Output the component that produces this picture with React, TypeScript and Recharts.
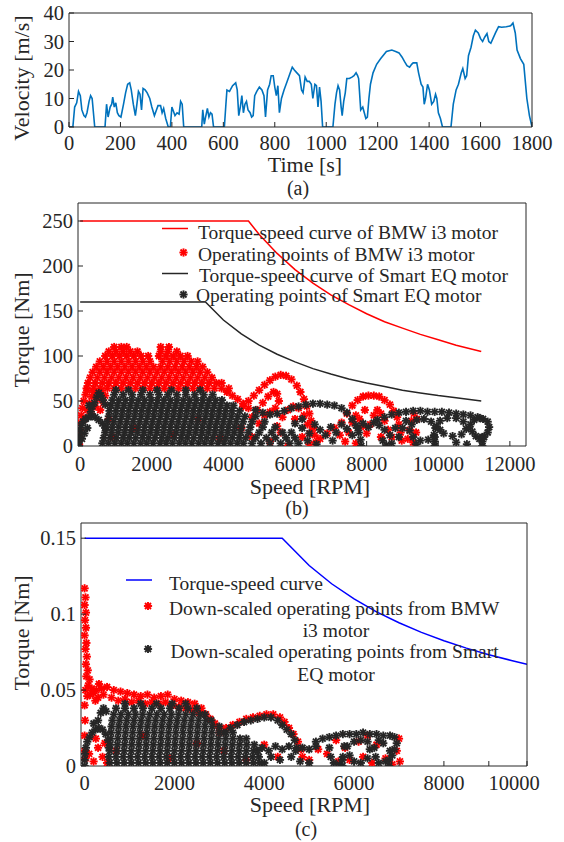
import React from "react";
import { ComposedChart, Line, Scatter, XAxis, YAxis, Legend } from "recharts";

type Pair = [number, number];
type Row = [number, number[]];

// (a) drive cycle, [time s, velocity m/s]
const velocityTrace: Pair[] = [
  [0, 0], [15, 0], [22, 7], [30, 8.5], [37, 12.5], [44, 11], [50, 6], [58, 4], [64, 3.5], [70, 5], [78, 9], [84, 11], [90, 10], [95, 5], [100, 0],
  [140, 0], [146, 8], [152, 3.5], [160, 7], [166, 8], [170, 10.5], [176, 7], [182, 8.5], [188, 5], [194, 4], [202, 3.5], [212, 8], [220, 12], [228, 15], [236, 15.5], [242, 13], [250, 8], [258, 4], [264, 8], [270, 12.5], [276, 11.5], [282, 6], [288, 13.5], [296, 13], [304, 12], [314, 10], [322, 7], [332, 4], [340, 6], [346, 7.5], [356, 7.5], [362, 5], [368, 6.5], [376, 3], [386, 0], [394, 0], [400, 7], [406, 5.5], [412, 4], [420, 5], [428, 4.5], [434, 9], [440, 8], [446, 0],
  [516, 0], [520, 6], [526, 1], [530, 3], [538, 6.5], [544, 3.5], [550, 5], [556, 4.5], [562, 0],
  [604, 0], [610, 8], [614, 13], [624, 12.5], [636, 14.5], [648, 15.5], [654, 13], [660, 4], [666, 7], [672, 11], [678, 5], [684, 8], [690, 9], [696, 6], [704, 5], [710, 3.5], [716, 4], [722, 11], [730, 12.5], [740, 14], [750, 13], [758, 11], [764, 3.5], [772, 13], [780, 15], [786, 18], [794, 18], [800, 14], [806, 11], [812, 14.5], [818, 5], [826, 10], [836, 13], [848, 16], [858, 18.5], [868, 21], [876, 20], [886, 19], [896, 18], [904, 13], [910, 12], [918, 17.5], [926, 16], [934, 16], [942, 15], [948, 10], [956, 15], [962, 14.5], [968, 7], [974, 14], [980, 9], [986, 0],
  [1026, 0], [1034, 8], [1040, 12], [1046, 14.5], [1052, 13], [1058, 7], [1062, 4], [1068, 9], [1074, 12], [1080, 17], [1090, 17], [1100, 17.5], [1108, 18], [1116, 19], [1122, 18], [1126, 17], [1134, 6], [1142, 7], [1148, 5], [1154, 3], [1160, 3.5], [1166, 10], [1172, 15], [1182, 19], [1196, 22], [1212, 24], [1234, 26.5], [1255, 27], [1270, 26.5], [1283, 26], [1295, 24.5], [1304, 23], [1314, 21.5], [1324, 21], [1332, 22], [1338, 22.5], [1352, 22.5], [1359, 19], [1369, 15], [1376, 14], [1381, 8], [1386, 10], [1394, 15], [1401, 13], [1410, 8], [1418, 9], [1425, 11.5], [1430, 10], [1436, 5], [1444, 3], [1452, 0],
  [1485, 0], [1494, 8], [1505, 13], [1514, 15], [1525, 19], [1531, 20.5], [1540, 17], [1546, 18], [1553, 25], [1563, 28], [1572, 32], [1580, 34], [1591, 33], [1600, 31], [1608, 30], [1616, 31.5], [1625, 32.8], [1632, 30], [1640, 29.4], [1648, 31], [1658, 33], [1670, 35.2], [1682, 35], [1700, 35.2], [1717, 35.5], [1726, 36.5], [1735, 33], [1742, 27], [1755, 24], [1768, 22], [1780, 10], [1790, 4], [1800, 0],
];

// (b) torque-speed envelopes, [rpm, Nm]
const bmwCurve: Pair[] = [[0, 250], [4700, 250], [5000, 235], [5500, 214], [6000, 196], [6500, 181], [7000, 168], [7500, 157], [8000, 147], [8500, 138], [9000, 131], [9500, 124], [10000, 118], [10500, 112], [11200, 105]];
const smartCurve: Pair[] = [[0, 160], [3500, 160], [4000, 140], [4500, 124.5], [5000, 112], [5500, 102], [6000, 93.5], [6500, 86], [7000, 80], [7500, 74.5], [8000, 70], [8500, 66], [9000, 62], [9500, 59], [10000, 56], [10500, 53.5], [11200, 50]];

// (b) BMW i3 operating points
const bmwLeft: Pair[] = [
  [-30, 2], [-20, 10], [0, 18], [10, 26], [30, 34], [60, 42], [100, 50], [150, 57], [200, 62], [120, 30], [200, 40], [260, 48], [320, 55], [380, 60],
  [300, 36], [420, 44], [480, 52], [540, 58], [600, 62], [560, 40], [650, 48], [700, 56],
];
const bmwBand: Row[] = [
  [64, [180, 380, 560, 760, 950, 1150, 1350, 1550, 1750, 1950, 2150, 2350, 2550, 2750, 2950, 3150, 3350, 3550, 3750, 3950, 4150]],
  [70, [220, 420, 620, 800, 1000, 1200, 1400, 1600, 1800, 2000, 2200, 2400, 2600, 2800, 3000, 3200, 3400, 3600, 3800, 3950]],
  [76, [280, 480, 680, 880, 1080, 1280, 1480, 1680, 1880, 2080, 2280, 2480, 2680, 2880, 3080, 3280, 3480, 3680]],
  [82, [350, 550, 750, 950, 1150, 1350, 1550, 1750, 1950, 2150, 2350, 2550, 2750, 2950, 3150, 3350, 3550]],
  [88, [450, 650, 850, 1050, 1250, 1450, 1650, 1850, 2050, 2250, 2450, 2650, 2850, 3050, 3250, 3420]],
  [94, [550, 750, 950, 1150, 1350, 1550, 1750, 1950, 2300, 2500, 2700, 2900, 3100, 3280]],
  [100, [700, 900, 1100, 1300, 1500, 1700, 1900, 2200, 2400, 2600, 2800, 3000]],
  [105, [800, 1000, 1200, 1400, 1600, 2250, 2450, 2700]],
  [110, [950, 1150, 1300, 2250, 2480]],
];
const bmwRight: Pair[] = [
  [4100, 60], [4250, 56], [4400, 52], [4550, 47], [4700, 42],
  [800, 30], [900, 10], [1500, 20], [2600, 12], [3300, 30], [3900, 8], [4500, 20], [4800, 10], [5000, 25], [5300, 5], [5600, 15], [6000, 30], [6200, 10], [6400, 2], [5800, 0],
  [4550, 44], [4700, 50], [4850, 56], [5000, 62], [5150, 68], [5300, 73], [5450, 77], [5600, 79], [5750, 78], [5900, 74], [6050, 67], [6150, 60], [6250, 52], [6330, 44], [6400, 36], [6450, 28], [6500, 20], [6550, 12], [6580, 4],
  [4800, 32], [4950, 40], [5100, 48], [5250, 55], [5400, 60], [5500, 58], [5550, 50], [5450, 42], [5300, 38], [5150, 34],
  [5500, 22], [5650, 32], [5800, 40], [5950, 44], [6100, 42], [6250, 34], [6350, 24], [6420, 14],
  [6700, 8], [6900, 14], [7100, 20], [7250, 12], [7300, 26], [7450, 36], [7600, 45], [7750, 51], [7900, 55], [8050, 56], [8200, 56], [8350, 55], [8500, 51], [8650, 46], [8750, 39], [8850, 32], [8900, 24], [8950, 15], [8980, 6],
  [7500, 15], [7600, 26], [7700, 34], [7800, 30], [7900, 22], [8000, 14], [8100, 24], [8200, 34], [8300, 40], [8400, 36], [8500, 28], [8600, 18], [8700, 10], [7400, 5], [7700, 3], [7950, 40], [8400, 10],
  [9150, 8], [9200, 18], [9250, 28], [9320, 36], [9400, 30], [9380, 15], [9300, 4],
];

// (b) Smart EQ operating points
const smartLeft: Pair[] = [
  [-30, 0], [-30, 6], [-20, 12], [0, 18], [30, 23], [80, 27], [150, 30], [230, 32], [320, 33], [420, 32], [520, 29], [620, 25], [700, 20], [50, 8], [120, 14], [200, 20],
  [400, 48], [460, 54], [520, 59], [580, 56], [640, 51], [700, 46], [340, 44], [300, 38], [250, 45],
];
const smartCore: Row[] = [
  [3, [620, 790, 970, 1150, 1320, 1500, 1690, 1860, 2040, 2230, 2400, 2580, 2770, 2940, 3120, 3310, 3480, 3660, 3850, 4020, 4200, 4390, 4560, 4800, 5050, 5300, 5600, 5850, 6100]],
  [9, [660, 840, 1010, 1200, 1370, 1550, 1740, 1910, 2090, 2280, 2450, 2630, 2820, 2990, 3170, 3360, 3530, 3710, 3900, 4070, 4250, 4440, 4620, 4900, 5200, 5450, 5750, 6000]],
  [15, [700, 880, 1060, 1240, 1420, 1600, 1780, 1960, 2140, 2320, 2500, 2680, 2860, 3040, 3220, 3400, 3580, 3760, 3940, 4120, 4300, 4480, 4700, 5000, 5350, 5650, 5900]],
  [21, [720, 900, 1080, 1260, 1440, 1620, 1800, 1980, 2160, 2340, 2520, 2700, 2880, 3060, 3240, 3420, 3600, 3780, 3960, 4140, 4320, 4500, 4750, 5100, 5450]],
  [27, [760, 940, 1120, 1300, 1480, 1660, 1840, 2020, 2200, 2380, 2560, 2740, 2920, 3100, 3280, 3460, 3640, 3820, 4000, 4180, 4360, 4550, 4800, 5150]],
  [33, [800, 980, 1160, 1340, 1520, 1700, 1880, 2060, 2240, 2420, 2600, 2780, 2960, 3140, 3320, 3500, 3680, 3860, 4040, 4220, 4400, 4600, 4900]],
  [39, [820, 1000, 1180, 1360, 1540, 1720, 1900, 2080, 2260, 2440, 2620, 2800, 2980, 3160, 3340, 3520, 3700, 3880, 4060, 4240, 4450]],
  [45, [860, 1040, 1220, 1400, 1580, 1760, 1940, 2120, 2300, 2480, 2660, 2840, 3020, 3200, 3380, 3560, 3740, 3920, 4100, 4280]],
  [51, [900, 1080, 1260, 1440, 1620, 1800, 1980, 2160, 2340, 2520, 2700, 2880, 3060, 3240, 3420, 3600, 3780, 3960]],
  [57, [950, 1200, 1450, 1700, 1950, 2200, 2450, 2700, 2950, 3200, 3450, 3700]],
  [62, [1000, 1350, 1750, 2150, 2550, 2950, 3350]],
];
const smartRight: Pair[] = [
  [4900, 40], [5100, 37], [5300, 35], [5500, 36], [5700, 39], [5900, 42], [6100, 44], [6300, 46], [6500, 47], [6700, 47], [6900, 46], [7100, 45], [7300, 42], [7450, 37], [7600, 30], [7700, 23], [7780, 15], [7830, 7], [7850, 0],
  [6200, 20], [6400, 14], [6550, 24], [6700, 18], [6850, 12], [7000, 21], [7150, 15], [7300, 24], [7450, 19], [7600, 12], [7750, 20], [7900, 25], [8050, 21], [8200, 26], [8350, 23], [8500, 18], [8650, 12], [8800, 20],
  [6350, 6], [6600, 2], [7050, 6], [8450, 6], [8550, 1], [8700, 3], [6000, 25], [6200, 30],
  [8300, 29], [8500, 32], [8700, 35], [8900, 37], [9100, 38], [9300, 39], [9500, 39], [9700, 38], [9900, 38], [10100, 38], [10300, 37], [10500, 36], [10700, 35], [10900, 34], [11100, 32], [11250, 30], [11380, 27], [11420, 21], [11380, 15], [11280, 10], [11150, 8],
  [9200, 17], [9260, 24], [9400, 29], [9600, 30], [9800, 27], [9920, 20], [9880, 12], [9720, 7], [9500, 6], [9300, 10],
  [9950, 22], [10050, 28], [10250, 31], [10500, 31], [10700, 27], [10780, 19], [10650, 13], [10400, 11], [10150, 14], [10050, 18],
  [10900, 24], [11000, 29], [11150, 31], [10950, 16], [11050, 11], [10850, 20],
  [9900, 0], [9900, 5], [9900, 10], [11230, 0], [11230, 5], [11230, 10], [9380, 2], [10500, 4], [10800, 2], [8900, 10], [9000, 20], [9100, 28],
];

// (c) down-scaled motor, [rpm, Nm]
const scaledCurve: Pair[] = [[0, 0.15], [4400, 0.15], [5000, 0.132], [5500, 0.12], [6000, 0.11], [6500, 0.1015], [7000, 0.0943], [7500, 0.088], [8000, 0.0825], [8500, 0.0776], [9000, 0.0733], [9500, 0.0695], [9850, 0.067]];

const scaledBmw: Pair[] = [
  [0, 0.117], [20, 0.111], [0, 0.106], [30, 0.101], [10, 0.096], [30, 0.091], [0, 0.086], [40, 0.081], [20, 0.077], [50, 0.072], [30, 0.067], [70, 0.063], [40, 0.059], [110, 0.057], [80, 0.053], [160, 0.051],
  [20, 0.05], [60, 0.046], [130, 0.047], [200, 0.048], [260, 0.05], [320, 0.054], [380, 0.051], [300, 0.045], [420, 0.047], [240, 0.043], [0, 0.04], [10, 0.03], [0, 0.02], [0, 0.01], [20, 0.005],
  [500, 0.052], [650, 0.05], [800, 0.049], [950, 0.048], [1100, 0.047], [1250, 0.046], [1400, 0.047], [1550, 0.045], [1700, 0.046], [1850, 0.047], [2000, 0.044], [2150, 0.043], [2300, 0.042], [2450, 0.041], [2600, 0.038],
  [600, 0.045], [750, 0.043], [900, 0.044], [1050, 0.042], [1200, 0.043], [1350, 0.041], [1500, 0.042], [1650, 0.041], [1800, 0.042], [1950, 0.04], [2100, 0.039], [2250, 0.038], [2400, 0.037], [2550, 0.035], [2700, 0.034], [2800, 0.031], [2900, 0.028], [3000, 0.025],
  [3000, 0.022], [3150, 0.025], [3300, 0.027], [3450, 0.029], [3600, 0.031], [3750, 0.032], [3900, 0.033], [4050, 0.034], [4200, 0.034], [4350, 0.032], [4450, 0.029], [4550, 0.025], [4650, 0.021], [4750, 0.016], [4820, 0.011], [4850, 0.006],
  [100, 0.008], [200, 0.003], [300, 0.012], [400, 0.006], [500, 0.002], [250, 0.018], [450, 0.015],
  [5000, 0.004], [5200, 0.011], [5400, 0.008], [5650, 0.003], [5800, 0.012], [5900, 0.004], [6100, 0.016], [6200, 0.006], [6400, 0.002], [6500, 0.014], [6700, 0.005], [6850, 0.001], [6950, 0.01], [7000, 0.018], [7020, 0.003], [6300, 0.02], [5600, 0.017],
  [700, 0.01], [1300, 0.02], [1900, 0.005], [2500, 0.015], [3100, 0.01], [3600, 0.004], [4000, 0.014], [4300, 0.006],
];
const scaledSmartLeft: Pair[] = [
  [0, 0], [0, 0.004], [10, 0.008], [30, 0.012], [60, 0.016], [110, 0.019], [170, 0.022], [240, 0.024], [320, 0.025], [400, 0.024], [470, 0.021], [520, 0.017], [540, 0.012],
  [300, 0.03], [360, 0.035], [420, 0.038], [480, 0.036], [200, 0.028],
];
const scaledSmartCore: Row[] = [
  [0.002, [560, 720, 880, 1040, 1200, 1360, 1520, 1680, 1840, 2000, 2160, 2320, 2480, 2640, 2800, 2960, 3120, 3280, 3440, 3600, 3760, 3900]],
  [0.006, [540, 700, 860, 1020, 1180, 1340, 1500, 1660, 1820, 1980, 2140, 2300, 2460, 2620, 2780, 2940, 3100, 3260, 3420, 3580, 3740, 3880]],
  [0.01, [560, 720, 880, 1040, 1200, 1360, 1520, 1680, 1840, 2000, 2160, 2320, 2480, 2640, 2800, 2960, 3120, 3280, 3440, 3600, 3760, 3860]],
  [0.014, [570, 730, 890, 1050, 1210, 1370, 1530, 1690, 1850, 2010, 2170, 2330, 2490, 2650, 2810, 2970, 3130, 3290, 3450, 3610, 3780]],
  [0.018, [580, 740, 900, 1060, 1220, 1380, 1540, 1700, 1860, 2020, 2180, 2340, 2500, 2660, 2820, 2980, 3140, 3300, 3460, 3600]],
  [0.022, [590, 750, 910, 1070, 1230, 1390, 1550, 1710, 1870, 2030, 2190, 2350, 2510, 2670, 2830, 2990, 3150, 3300]],
  [0.026, [600, 760, 920, 1080, 1240, 1400, 1560, 1720, 1880, 2040, 2200, 2360, 2520, 2680, 2840, 3000]],
  [0.03, [620, 780, 940, 1100, 1260, 1420, 1580, 1740, 1900, 2060, 2220, 2380, 2540, 2700, 2820]],
  [0.034, [650, 810, 970, 1130, 1290, 1450, 1610, 1770, 1930, 2090, 2250, 2410, 2570, 2680]],
  [0.038, [700, 900, 1100, 1300, 1500, 1700, 1900, 2100, 2300, 2500]],
  [0.041, [900, 1250, 1600, 1950, 2250]],
];
const scaledSmartRight: Pair[] = [
  [3100, 0.022], [3250, 0.025], [3400, 0.027], [3550, 0.029], [3700, 0.03], [3850, 0.031], [4000, 0.032], [4150, 0.032], [4300, 0.03], [4400, 0.027], [4500, 0.024], [4600, 0.021], [4680, 0.017], [4720, 0.012],
  [3950, 0.012], [4100, 0.01], [4250, 0.013], [4400, 0.011], [4550, 0.013], [4700, 0.01], [4850, 0.012], [5000, 0.011], [5150, 0.013], [4150, 0.006], [4350, 0.004], [4600, 0.006], [4800, 0.003], [5000, 0.002], [4000, 0.002],
  [5150, 0.016], [5300, 0.018], [5450, 0.019], [5600, 0.02], [5750, 0.021], [5900, 0.021], [6050, 0.021], [6200, 0.022], [6350, 0.021], [6500, 0.021], [6650, 0.02], [6800, 0.02], [6900, 0.019], [6950, 0.015], [6900, 0.011], [6850, 0.007],
  [5450, 0.012], [5480, 0.006], [5550, 0.002], [5680, 0.001], [5750, 0.006], [5780, 0.013],
  [5850, 0.013], [5900, 0.007], [6000, 0.003], [6150, 0.002], [6300, 0.005], [6350, 0.011], [6300, 0.016], [6150, 0.017], [6000, 0.016],
  [6450, 0.012], [6480, 0.006], [6550, 0.002], [6700, 0.003], [6800, 0.01], [6650, 0.015], [6550, 0.017],
  [5740, 0], [5740, 0.004], [6780, 0], [6780, 0.004],
];

const timeTicks = [0, 200, 400, 600, 800, 1000, 1200, 1400, 1600, 1800];
const velTicks = [0, 10, 20, 30, 40];
const rpmTicksB = [0, 2000, 4000, 6000, 8000, 10000, 12000];
const torqueTicksB = [0, 50, 100, 150, 200, 250];
const rpmTicksC = [0, 1000, 2000, 3000, 4000, 5000, 6000, 7000, 8000, 9000, 9850];
const torqueTicksC = [0, 0.05, 0.1, 0.15];

const W = 564;
const H = 842;
const INK = "#262626";
const RED = "#ff0000";
const FONT = "'Liberation Serif', 'Times New Roman', serif";
const AX = 1; // thickness reserved for each axis
const TICK_FS = 20.5;
const TITLE_FS = 22;

type Box = { l: number; r: number; t: number; b: number };
const boxA: Box = { l: 69, r: 532, t: 13, b: 127 };
const boxB: Box = { l: 78, r: 526, t: 203, b: 446 };
const boxC: Box = { l: 81, r: 527, t: 523, b: 766 };

const marginOf = (bx: Box) => ({ top: bx.t - AX, right: W - bx.r - AX, bottom: H - bx.b - AX, left: bx.l - AX });
const toPts = (arr: Pair[]) => arr.map(([x, y]) => ({ x, y }));
const rowPts = (rows: Row[]) => rows.flatMap(([y, xs]) => xs.map((x) => ({ x, y })));
const serif = (size: number) => ({ fontFamily: FONT, fontSize: size, fontWeight: 400 });

const bottomTick = (bx: Box, base: number, label: (v: number) => string | null, shift: (v: number) => number = () => 0) =>
  (p: any) => {
    const v = p.payload.value;
    const s = label(v);
    return (
      <g>
        <line x1={p.x} x2={p.x} y1={bx.b} y2={bx.b - 5} stroke={INK} />
        {s !== null && (
          <text x={p.x + shift(v)} y={base} textAnchor="middle" fill={INK} style={serif(TICK_FS)}>{s}</text>
        )}
      </g>
    );
  };
const leftTick = (bx: Box) => (p: any) => (
  <g>
    <line x1={bx.l} x2={bx.l + 5} y1={p.y} y2={p.y} stroke={INK} />
    <text x={bx.l - 5} y={p.y} dy="0.35em" textAnchor="end" fill={INK} style={serif(TICK_FS)}>{String(p.payload.value)}</text>
  </g>
);
const topTick = (bx: Box) => (p: any) => <line x1={p.x} x2={p.x} y1={bx.t} y2={bx.t + 5} stroke={INK} />;
const rightTick = (bx: Box) => (p: any) => <line x1={bx.r} x2={bx.r - 5} y1={p.y} y2={p.y} stroke={INK} />;

const Titles = (p: any) => (
  <g>
    {p.lines.map((it: any, i: number) => (
      <text key={i} x={it.x} y={it.y} textAnchor="middle" fill={INK} style={serif(it.size)}
        transform={it.rot ? `rotate(-90 ${it.x} ${it.y})` : undefined}>{it.s}</text>
    ))}
  </g>
);

const Star = ({ cx, cy, color }: { cx: number; cy: number; color: string }) => {
  const r = 4.1;
  const d = 3;
  return (
    <g stroke={color} strokeWidth={1.9}>
      <line x1={cx - r} y1={cy} x2={cx + r} y2={cy} />
      <line x1={cx} y1={cy - r} x2={cx} y2={cy + r} />
      <line x1={cx - d} y1={cy - d} x2={cx + d} y2={cy + d} />
      <line x1={cx - d} y1={cy + d} x2={cx + d} y2={cy - d} />
    </g>
  );
};
const redStar = (p: any) => <Star cx={p.cx} cy={p.cy} color={RED} />;
const darkStar = (p: any) => <Star cx={p.cx} cy={p.cy} color={INK} />;

const legendWrap = { position: "absolute" as const, left: 0, top: 0, width: W, height: H, pointerEvents: "none" as const };
const LegendText = ({ x, y, s, anchor }: { x: number; y: number; s: string; anchor?: string }) => (
  <text x={x} y={y} fill={INK} textAnchor={anchor || "start"} style={serif(19.5)}>{s}</text>
);

function ChartA() {
  return (
    <ComposedChart width={W} height={H} margin={marginOf(boxA)}>
      <XAxis type="number" dataKey="x" domain={[0, 1800]} ticks={timeTicks} interval={0} height={AX} allowDataOverflow
        tickLine={false} axisLine={{ stroke: INK }} tick={bottomTick(boxA, 150, (v) => String(v))}
        label={<Titles lines={[{ x: 305, y: 172, s: "Time [s]", size: TITLE_FS }, { x: 298, y: 195, s: "(a)", size: 20 }]} />} />
      <XAxis xAxisId="top" orientation="top" type="number" domain={[0, 1800]} ticks={timeTicks} interval={0} height={AX}
        tickLine={false} axisLine={{ stroke: INK }} tick={topTick(boxA)} />
      <YAxis type="number" dataKey="y" domain={[0, 40]} ticks={velTicks} interval={0} width={AX} allowDataOverflow
        tickLine={false} axisLine={{ stroke: INK }} tick={leftTick(boxA)}
        label={<Titles lines={[{ x: 29, y: 78, s: "Velocity [m/s]", size: TITLE_FS, rot: true }]} />} />
      <YAxis yAxisId="right" orientation="right" type="number" domain={[0, 40]} ticks={velTicks} interval={0} width={AX}
        tickLine={false} axisLine={{ stroke: INK }} tick={rightTick(boxA)} />
      <Line data={toPts(velocityTrace)} dataKey="y" type="linear" stroke="#0072bd" strokeWidth={1.6} dot={false} isAnimationActive={false} />
    </ComposedChart>
  );
}

function ChartB() {
  const legend = () => (
    <svg width={W} height={H} style={{ position: "absolute", left: 0, top: 0, overflow: "visible" }}>
      <line x1={162} x2={188} y1={228.5} y2={228.5} stroke={RED} strokeWidth={1.5} />
      <LegendText x={198} y={238.5} s="Torque-speed curve of BMW i3 motor" />
      <Star cx={183.5} cy={252.5} color={RED} />
      <LegendText x={198} y={261} s="Operating points of BMW i3 motor" />
      <line x1={162} x2={188} y1={273.5} y2={273.5} stroke={INK} strokeWidth={1.5} />
      <LegendText x={199} y={282} s="Torque-speed curve of Smart EQ motor" />
      <Star cx={183.5} cy={294.5} color={INK} />
      <LegendText x={196} y={302} s="Operating points of Smart EQ motor" />
    </svg>
  );
  return (
    <ComposedChart width={W} height={H} margin={marginOf(boxB)}>
      <XAxis type="number" dataKey="x" domain={[-60, 12450]} ticks={rpmTicksB} interval={0} height={AX} allowDataOverflow
        tickLine={false} axisLine={{ stroke: INK }} tick={bottomTick(boxB, 471, (v) => String(v))}
        label={<Titles lines={[{ x: 310, y: 494, s: "Speed [RPM]", size: TITLE_FS }, { x: 297, y: 515, s: "(b)", size: 20 }]} />} />
      <XAxis xAxisId="top" orientation="top" type="number" domain={[-60, 12450]} ticks={rpmTicksB} interval={0} height={AX}
        tickLine={false} axisLine={{ stroke: INK }} tick={topTick(boxB)} />
      <YAxis type="number" dataKey="y" domain={[0, 270]} ticks={torqueTicksB} interval={0} width={AX} allowDataOverflow
        tickLine={false} axisLine={{ stroke: INK }} tick={leftTick(boxB)}
        label={<Titles lines={[{ x: 29, y: 330, s: "Torque [Nm]", size: TITLE_FS, rot: true }]} />} />
      <YAxis yAxisId="right" orientation="right" type="number" domain={[0, 270]} ticks={torqueTicksB} interval={0} width={AX}
        tickLine={false} axisLine={{ stroke: INK }} tick={rightTick(boxB)} />
      <Line data={toPts(bmwCurve)} dataKey="y" type="linear" stroke={RED} strokeWidth={1.5} dot={false} isAnimationActive={false} />
      <Scatter data={[...toPts(bmwLeft), ...rowPts(bmwBand), ...toPts(bmwRight)]} shape={redStar} isAnimationActive={false} />
      <Line data={toPts(smartCurve)} dataKey="y" type="linear" stroke={INK} strokeWidth={1.5} dot={false} isAnimationActive={false} />
      <Scatter data={[...toPts(smartLeft), ...rowPts(smartCore), ...toPts(smartRight)]} shape={darkStar} isAnimationActive={false} />
      <Legend layout="horizontal" verticalAlign="middle" align="center" wrapperStyle={legendWrap} content={legend} />
    </ComposedChart>
  );
}

function ChartC() {
  const legend = () => (
    <svg width={W} height={H} style={{ position: "absolute", left: 0, top: 0, overflow: "visible" }}>
      <line x1={126} x2={152} y1={580} y2={580} stroke="#0000ff" strokeWidth={1.5} />
      <LegendText x={169} y={590} s="Torque-speed curve" />
      <Star cx={148} cy={606} color={RED} />
      <LegendText x={169} y={614.5} s="Down-scaled operating points from BMW" />
      <LegendText x={336} y={636.5} s="i3 motor" anchor="middle" />
      <Star cx={148} cy={649} color={INK} />
      <LegendText x={170.5} y={658} s="Down-scaled operating points from Smart" />
      <LegendText x={336} y={680.5} s="EQ motor" anchor="middle" />
    </svg>
  );
  return (
    <ComposedChart width={W} height={H} margin={marginOf(boxC)}>
      <XAxis type="number" dataKey="x" domain={[-80, 9850]} ticks={rpmTicksC} interval={0} height={AX} allowDataOverflow
        tickLine={false} axisLine={{ stroke: INK }}
        tick={bottomTick(boxC, 790, (v) => (v === 9850 ? "10000" : v % 2000 === 0 ? String(v) : null), (v) => (v === 9850 ? -13 : 0))}
        label={<Titles lines={[{ x: 310, y: 812, s: "Speed [RPM]", size: TITLE_FS }, { x: 306, y: 836, s: "(c)", size: 20 }]} />} />
      <XAxis xAxisId="top" orientation="top" type="number" domain={[-80, 9850]} ticks={rpmTicksC} interval={0} height={AX}
        tickLine={false} axisLine={{ stroke: INK }} tick={topTick(boxC)} />
      <YAxis type="number" dataKey="y" domain={[0, 0.16]} ticks={torqueTicksC} interval={0} width={AX} allowDataOverflow
        tickLine={false} axisLine={{ stroke: INK }} tick={leftTick(boxC)}
        label={<Titles lines={[{ x: 29, y: 633, s: "Torque [Nm]", size: TITLE_FS, rot: true }]} />} />
      <YAxis yAxisId="right" orientation="right" type="number" domain={[0, 0.16]} ticks={torqueTicksC} interval={0} width={AX}
        tickLine={false} axisLine={{ stroke: INK }} tick={rightTick(boxC)} />
      <Line data={toPts(scaledCurve)} dataKey="y" type="linear" stroke="#0000ff" strokeWidth={1.5} dot={false} isAnimationActive={false} />
      <Scatter data={toPts(scaledBmw)} shape={redStar} isAnimationActive={false} />
      <Scatter data={[...toPts(scaledSmartLeft), ...rowPts(scaledSmartCore), ...toPts(scaledSmartRight)]} shape={darkStar} isAnimationActive={false} />
      <Legend layout="horizontal" verticalAlign="middle" align="center" wrapperStyle={legendWrap} content={legend} />
    </ComposedChart>
  );
}

export default function App() {
  const layer = { position: "absolute" as const, left: 0, top: 0 };
  return (
    <div style={{ position: "absolute", left: 0, top: 0, width: W, height: H, background: "#fff", overflow: "hidden" }}>
      <div style={layer}><ChartA /></div>
      <div style={layer}><ChartB /></div>
      <div style={layer}><ChartC /></div>
    </div>
  );
}
